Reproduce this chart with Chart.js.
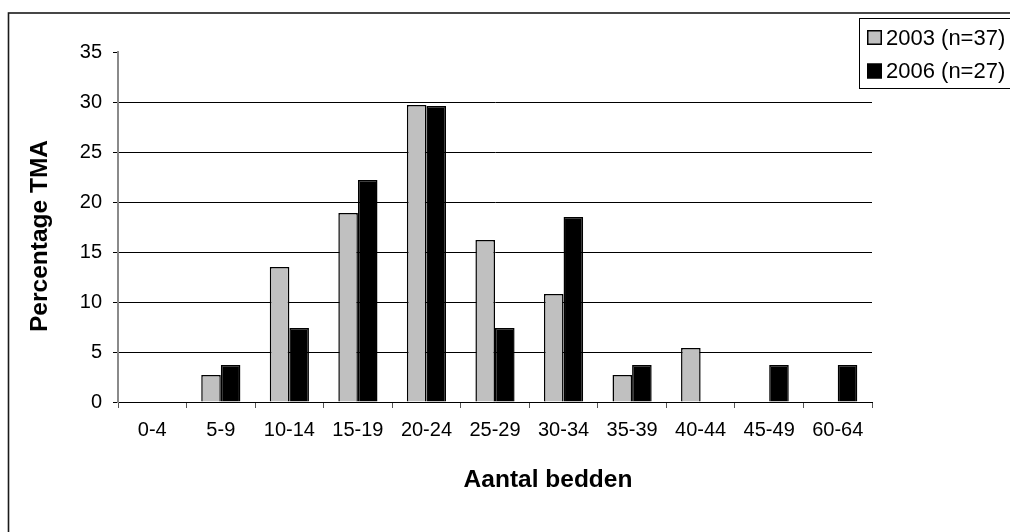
<!DOCTYPE html>
<html>
<head>
<meta charset="utf-8">
<script src="https://cdn.jsdelivr.net/npm/chart.js@4"></script>
<style>
  html, body { margin: 0; padding: 0; background: #fff; }
  canvas { display: block; }
</style>
</head>
<body>
<canvas id="c" width="1010" height="532"></canvas>
<script>
// Bed-count classes and the share of TMA per class (percent)
const categories = ['0-4', '5-9', '10-14', '15-19', '20-24', '25-29', '30-34', '35-39', '40-44', '45-49', '60-64'];
const pct2003 = [0, 2.7, 13.5, 18.9, 29.7, 16.2, 10.8, 2.7, 5.4, 0, 0];
const pct2006 = [0, 3.7, 7.4, 22.2, 29.6, 7.4, 18.5, 3.7, 0, 3.7, 3.7];
const seriesLabels = ['2003 (n=37)', '2006 (n=27)'];
const seriesColors = ['#C0C0C0', '#000000'];
const yTicks = [0, 5, 10, 15, 20, 25, 30, 35];
const xTitle = 'Aantal bedden';
const yTitle = 'Percentage TMA';

const FONT = '"Liberation Sans", Arial, sans-serif';

// Frame, legend box and axis titles
const decor = {
  id: 'decor',
  beforeDraw(chart) {
    const ctx = chart.ctx;
    ctx.save();
    ctx.fillStyle = '#fff';
    ctx.fillRect(0, 0, chart.width, chart.height);
    ctx.restore();
  },
  afterDraw(chart) {
    const ctx = chart.ctx;
    ctx.save();
    // outer frame
    ctx.strokeStyle = '#1a1a1a';
    ctx.lineWidth = 1.6;
    ctx.strokeRect(8.5, 13, 1200, 700);

    // axis titles
    ctx.fillStyle = '#000';
    ctx.font = 'bold 24.5px ' + FONT;
    ctx.textAlign = 'center';
    ctx.textBaseline = 'middle';
    ctx.fillText(xTitle, 548, 480);
    ctx.save();
    ctx.translate(40, 236);
    ctx.rotate(-Math.PI / 2);
    ctx.fillText(yTitle, 0, 0);
    ctx.restore();

    // legend
    ctx.strokeStyle = '#000';
    ctx.lineWidth = 1;
    ctx.strokeRect(859.5, 18.5, 300, 70);
    ctx.font = '22px ' + FONT;
    ctx.textAlign = 'left';
    const rows = [37.5, 71];
    chart.data.datasets.forEach((ds, i) => {
      const y = rows[i];
      ctx.fillStyle = ds.backgroundColor;
      ctx.fillRect(867, y - 7.5, 15, 15);
      ctx.strokeStyle = '#000';
      ctx.lineWidth = 1.5;
      ctx.strokeRect(867.75, y - 6.75, 13.5, 13.5);
      ctx.fillStyle = '#000';
      ctx.fillText(ds.label, 886, y + 1);
    });
    ctx.restore();
  }
};

new Chart(document.getElementById('c'), {
  type: 'bar',
  data: {
    labels: categories,
    datasets: [
      { label: seriesLabels[0], data: pct2003, backgroundColor: seriesColors[0], borderColor: '#000', borderWidth: 1.5 },
      { label: seriesLabels[1], data: pct2006, backgroundColor: seriesColors[1], borderColor: '#000', borderWidth: 1.5 }
    ]
  },
  options: {
    responsive: false,
    animation: false,
    devicePixelRatio: 1,
    layout: { padding: { top: 52, right: 138, bottom: 0, left: 0 } },
    datasets: { bar: { categoryPercentage: 2 / 3.5, barPercentage: 1 } },
    plugins: { legend: { display: false }, tooltip: { enabled: false } },
    scales: {
      x: {
        afterFit: s => { s.height = 130; },
        grid: { drawOnChartArea: false, drawTicks: true, tickLength: 6, color: '#555', tickColor: '#555', offset: true },
        border: { display: true, color: '#000', width: 1 },
        ticks: { color: '#000', font: { family: FONT, size: 20 }, padding: 10, maxRotation: 0, autoSkip: false }
      },
      y: {
        min: yTicks[0],
        max: yTicks[yTicks.length - 1],
        afterFit: s => { s.width = 118; },
        afterBuildTicks: s => { s.ticks = yTicks.map(v => ({ value: v })); },
        grid: {
          color: c => (c.tick && c.tick.value === yTicks[yTicks.length - 1]) ? 'rgba(0,0,0,0)' : '#000',
          tickColor: '#000',
          lineWidth: 1,
          tickLength: 5
        },
        border: { display: true, color: '#8a8a8a', width: 2 },
        ticks: { color: '#000', font: { family: FONT, size: 20 }, padding: 11 }
      }
    }
  },
  plugins: [decor]
});
</script>
</body>
</html>
